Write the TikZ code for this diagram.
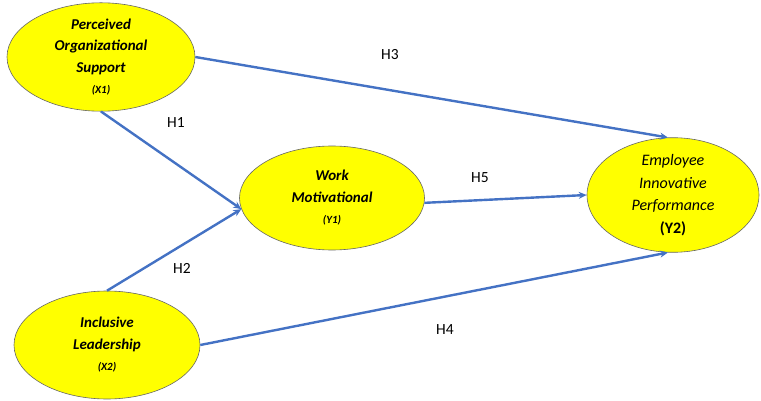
\documentclass[tikz,border=0pt]{standalone}
\usepackage{fontspec}
\setmainfont{Carlito}
\usetikzlibrary{shapes.geometric,arrows.meta}
\definecolor{pathblue}{RGB}{68,114,196}
\definecolor{varyellow}{RGB}{255,255,0}
\begin{document}
\begin{tikzpicture}[x=1pt, y=-1pt,
    var/.style={ellipse, draw=gray!80!black, fill=varyellow, line width=0.6pt,
        inner sep=0pt, align=center, font=\fontsize{15}{21.5}\selectfont\bfseries\itshape},
    path/.style={draw=pathblue, line width=2.4pt, -{Stealth[length=8pt,width=7pt]}},
    hyp/.style={font=\fontsize{15.5}{17}\selectfont}]
    \useasboundingbox (0,0) rectangle (761,401);

    % Variables
    \node[var, minimum width=188pt, minimum height=103pt] (x1) at (101,57)
        {Perceived\\Organizational\\Support\\{\fontsize{11}{13}\selectfont(X1)}};
    \node[var, minimum width=186pt, minimum height=108pt] (x2) at (107,345)
        {Inclusive\\Leadership\\{\fontsize{11}{13}\selectfont(X2)}};
    \node[var, minimum width=185pt, minimum height=104pt] (y1) at (332,198)
        {Work\\Motivational\\{\fontsize{11}{13}\selectfont(Y1)}};
    \node[var, minimum width=172pt, minimum height=114pt, font=\fontsize{16}{22.5}\selectfont\itshape] (y2) at (673,195)
        {Employee\\Innovative\\Performance\\{\upshape\bfseries(Y2)}};

    % Paths
    \draw[path] (x1.east) -- (y2.95);
    \draw[path] (x1.south) -- (y1.187);
    \draw[path] (x2.north) -- (y1.187);
    \draw[path] (y1.357) -- (y2.west);
    \draw[path] (x2.east) -- (y2.265);

    % Hypotheses
    \node[hyp] (h1) at (176,123) {H1};
    \node[hyp] (h2) at (182,268) {H2};
    \node[hyp] (h3) at (390,55) {H3};
    \node[hyp] (h4) at (445,330) {H4};
    \node[hyp] (h5) at (480,178) {H5};
\end{tikzpicture}
\end{document}
